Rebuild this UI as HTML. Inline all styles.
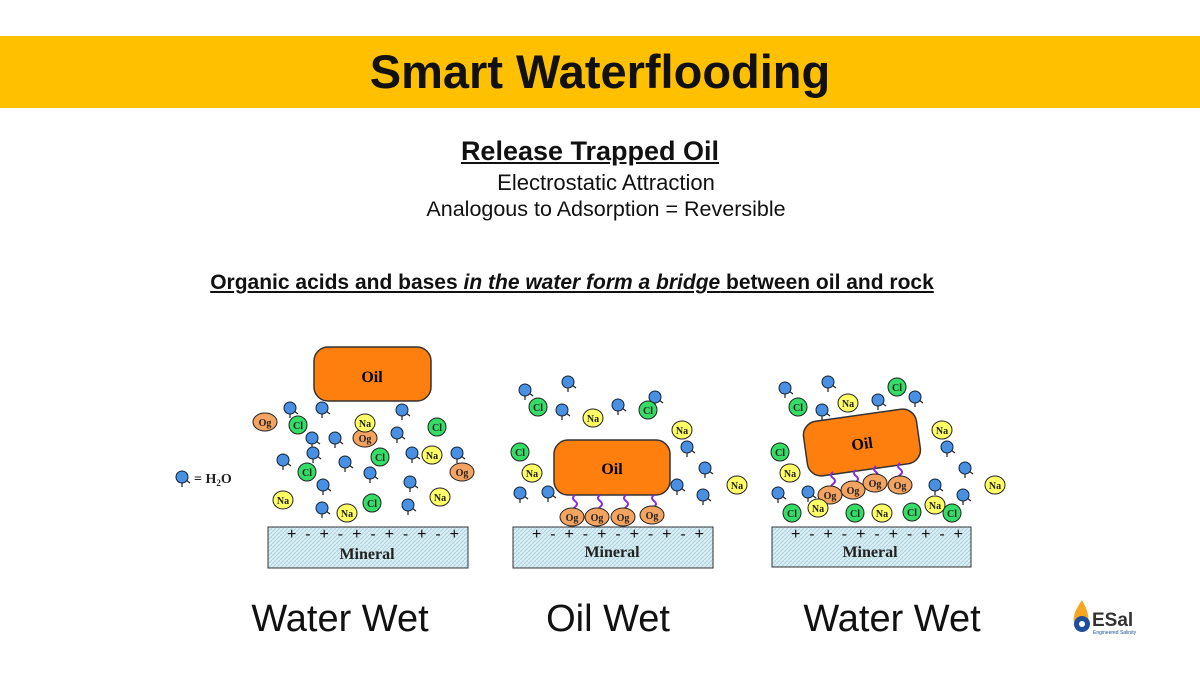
<!DOCTYPE html>
<html><head><meta charset="utf-8"><style>
body{margin:0;width:1200px;height:675px;background:#fff;overflow:hidden;position:relative;font-family:"Liberation Sans",sans-serif;}
.band{position:absolute;left:0;top:36px;width:1200px;height:72px;background:#ffc000;}
.t{position:absolute;left:0;width:1200px;text-align:center;color:#111;white-space:nowrap;}
</style></head><body>
<div class="band"></div>
<div class="t" style="top:44px;font-size:47px;font-weight:bold;">Smart Waterflooding</div>
<div class="t" style="top:136px;font-size:27px;font-weight:bold;text-decoration:underline;left:-10px;">Release Trapped Oil</div>
<div class="t" style="top:170px;font-size:22px;left:6px;">Electrostatic Attraction</div>
<div class="t" style="top:197px;font-size:21.5px;left:6px;">Analogous to Adsorption = Reversible</div>
<div class="t" style="top:271px;font-size:21px;font-weight:bold;text-decoration:underline;left:-28px;">Organic acids and bases <i>in the water form a bridge</i> between oil and rock</div>
<svg width="1200" height="675" style="position:absolute;left:0;top:0" xmlns="http://www.w3.org/2000/svg">
<defs>
<pattern id="hp" width="4" height="4" patternUnits="userSpaceOnUse"><rect width="4" height="4" fill="#d8eef4"/><path d="M0 4L4 0" stroke="#a9cdd8" stroke-width="0.8"/></pattern>
<g id="w"><line x1="0" y1="0" x2="0" y2="10" stroke="#222" stroke-width="1.2"/><line x1="0" y1="0" x2="8" y2="6" stroke="#222" stroke-width="1.2"/><circle r="6" fill="#4a90e2" stroke="#123" stroke-width="1"/></g>
</defs>
<g font-family="Liberation Serif,serif" font-weight="bold">
<rect x="268" y="527" width="200" height="41" fill="url(#hp)" stroke="#333"/>
<rect x="513" y="527" width="200" height="41" fill="url(#hp)" stroke="#333"/>
<rect x="772" y="527" width="199" height="40" fill="url(#hp)" stroke="#333"/>
<g font-size="16" font-family="Liberation Sans,sans-serif" font-weight="normal" fill="#111">
<text x="287" y="539" textLength="172" lengthAdjust="spacing">+  -  +  -  +  - +  -  +  -  +</text>
<text x="532" y="539" textLength="172" lengthAdjust="spacing">+  -  +  -  +  - +  -  +  -  +</text>
<text x="791" y="539" textLength="172" lengthAdjust="spacing">+  -  +  -  +  - +  -  +  -  +</text>
</g>
<g font-size="16" fill="#222" text-anchor="middle">
<text x="367" y="559">Mineral</text><text x="612" y="557">Mineral</text><text x="870" y="557">Mineral</text>
</g>
<rect x="314" y="347" width="117" height="54" rx="14" fill="#ff7f0e" stroke="#333" stroke-width="1.5"/>
<text x="372" y="382" font-size="16" text-anchor="middle">Oil</text>
<rect x="554" y="440" width="116" height="55" rx="14" fill="#ff7f0e" stroke="#333" stroke-width="1.5"/>
<text x="612" y="474" font-size="16" text-anchor="middle">Oil</text>
<g transform="translate(862,443) rotate(-8)"><rect x="-57" y="-28" width="114" height="55" rx="14" fill="#ff7f0e" stroke="#333" stroke-width="1.5"/><text x="0" y="6" font-size="16" text-anchor="middle">Oil</text></g>
<g stroke="#8a2be2" stroke-width="2" fill="none">
<path d="M575 495q-4 3 0 6t0 6t0 6"/><path d="M600 495q-4 3 0 6t0 6t0 6"/><path d="M626 495q-4 3 0 6t0 6t0 6"/><path d="M654 495q-4 3 0 6t0 6t0 6"/>
<path d="M833 472q-4 3 0 6t0 6t0 6"/><path d="M856 470q-4 3 0 6t0 6t0 6"/><path d="M876 466q-4 3 0 6t0 6"/><path d="M900 463q-4 3 0 6t0 6t0 6"/>
</g>
<g>
<use href="#w" x="290" y="408"/><use href="#w" x="322" y="408"/><use href="#w" x="402" y="410"/><use href="#w" x="312" y="438"/><use href="#w" x="335" y="438"/><use href="#w" x="283" y="460"/><use href="#w" x="313" y="453"/><use href="#w" x="345" y="462"/><use href="#w" x="397" y="433"/><use href="#w" x="412" y="453"/><use href="#w" x="457" y="453"/><use href="#w" x="370" y="473"/><use href="#w" x="410" y="482"/><use href="#w" x="323" y="485"/><use href="#w" x="322" y="508"/><use href="#w" x="408" y="505"/><use href="#w" x="182" y="477"/>
<use href="#w" x="525" y="390"/><use href="#w" x="568" y="382"/><use href="#w" x="562" y="410"/><use href="#w" x="618" y="405"/><use href="#w" x="655" y="397"/><use href="#w" x="687" y="447"/><use href="#w" x="705" y="468"/><use href="#w" x="677" y="485"/><use href="#w" x="703" y="495"/><use href="#w" x="520" y="493"/><use href="#w" x="548" y="492"/>
<use href="#w" x="785" y="388"/><use href="#w" x="828" y="382"/><use href="#w" x="822" y="410"/><use href="#w" x="878" y="400"/><use href="#w" x="915" y="397"/><use href="#w" x="947" y="447"/><use href="#w" x="965" y="468"/><use href="#w" x="935" y="485"/><use href="#w" x="963" y="495"/><use href="#w" x="778" y="493"/><use href="#w" x="808" y="492"/>
</g>
<text x="194" y="483" font-size="14" fill="#222">= H<tspan font-size="9" dy="3">2</tspan><tspan dy="-3">O</tspan></text>
<g font-size="10" text-anchor="middle" stroke="#222" stroke-width="1">
<g fill="#f4a460">
<ellipse cx="265" cy="422" rx="12" ry="9"/><ellipse cx="365" cy="438" rx="12" ry="9"/><ellipse cx="462" cy="472" rx="12" ry="9"/>
<ellipse cx="572" cy="517" rx="12" ry="9"/><ellipse cx="597" cy="517" rx="12" ry="9"/><ellipse cx="623" cy="517" rx="12" ry="9"/><ellipse cx="652" cy="515" rx="12" ry="9"/>
<ellipse cx="830" cy="495" rx="12" ry="9"/><ellipse cx="853" cy="490" rx="12" ry="9"/><ellipse cx="875" cy="483" rx="12" ry="9"/><ellipse cx="900" cy="485" rx="12" ry="9"/>
</g>
<g fill="#33dd66">
<circle cx="298" cy="425" r="9"/><circle cx="437" cy="427" r="9"/><circle cx="380" cy="457" r="9"/><circle cx="307" cy="472" r="9"/><circle cx="372" cy="503" r="9"/>
<circle cx="538" cy="407" r="9"/><circle cx="648" cy="410" r="9"/><circle cx="520" cy="452" r="9"/>
<circle cx="798" cy="407" r="9"/><circle cx="897" cy="387" r="9"/><circle cx="780" cy="452" r="9"/><circle cx="792" cy="513" r="9"/><circle cx="855" cy="513" r="9"/><circle cx="912" cy="512" r="9"/><circle cx="952" cy="513" r="9"/>
</g>
<g fill="#ffff66">
<ellipse cx="365" cy="423" rx="10" ry="9"/><ellipse cx="432" cy="455" rx="10" ry="9"/><ellipse cx="283" cy="500" rx="10" ry="9"/><ellipse cx="347" cy="513" rx="10" ry="9"/><ellipse cx="440" cy="497" rx="10" ry="9"/>
<ellipse cx="593" cy="418" rx="10" ry="9"/><ellipse cx="682" cy="430" rx="10" ry="9"/><ellipse cx="532" cy="473" rx="10" ry="9"/><ellipse cx="737" cy="485" rx="10" ry="9"/>
<ellipse cx="848" cy="403" rx="10" ry="9"/><ellipse cx="942" cy="430" rx="10" ry="9"/><ellipse cx="790" cy="473" rx="10" ry="9"/><ellipse cx="995" cy="485" rx="10" ry="9"/><ellipse cx="818" cy="508" rx="10" ry="9"/><ellipse cx="882" cy="513" rx="10" ry="9"/><ellipse cx="935" cy="505" rx="10" ry="9"/>
</g>
</g>
<g font-size="10" text-anchor="middle" fill="#222">
<text x="265" y="426">Og</text><text x="365" y="442">Og</text><text x="462" y="476">Og</text>
<text x="572" y="521">Og</text><text x="597" y="521">Og</text><text x="623" y="521">Og</text><text x="652" y="519">Og</text>
<text x="830" y="499">Og</text><text x="853" y="494">Og</text><text x="875" y="487">Og</text><text x="900" y="489">Og</text>
<text x="298" y="429">Cl</text><text x="437" y="431">Cl</text><text x="380" y="461">Cl</text><text x="307" y="476">Cl</text><text x="372" y="507">Cl</text>
<text x="538" y="411">Cl</text><text x="648" y="414">Cl</text><text x="520" y="456">Cl</text>
<text x="798" y="411">Cl</text><text x="897" y="391">Cl</text><text x="780" y="456">Cl</text><text x="792" y="517">Cl</text><text x="855" y="517">Cl</text><text x="912" y="516">Cl</text><text x="952" y="517">Cl</text>
<text x="365" y="427">Na</text><text x="432" y="459">Na</text><text x="283" y="504">Na</text><text x="347" y="517">Na</text><text x="440" y="501">Na</text>
<text x="593" y="422">Na</text><text x="682" y="434">Na</text><text x="532" y="477">Na</text><text x="737" y="489">Na</text>
<text x="848" y="407">Na</text><text x="942" y="434">Na</text><text x="790" y="477">Na</text><text x="995" y="489">Na</text><text x="818" y="512">Na</text><text x="882" y="517">Na</text><text x="935" y="509">Na</text>
</g>
</g>
<g font-family="Liberation Sans,sans-serif" font-size="38" fill="#111" text-anchor="middle">
<text x="340" y="631">Water Wet</text><text x="608" y="631">Oil Wet</text><text x="892" y="631">Water Wet</text>
</g>
<path d="M1082 600q-10 14 -8 22h14q2 -8 -6 -22z" fill="#f5a623"/>
<circle cx="1082" cy="624" r="8" fill="#1f4e9c"/><circle cx="1082" cy="624" r="3" fill="#fff"/>
<text x="1092" y="626" font-family="Liberation Sans,sans-serif" font-weight="bold" font-size="19" fill="#333">ESal</text>
<text x="1093" y="634" font-family="Liberation Sans,sans-serif" font-size="5" fill="#1f4e9c">Engineered Salinity</text>
</svg>
</body></html>
